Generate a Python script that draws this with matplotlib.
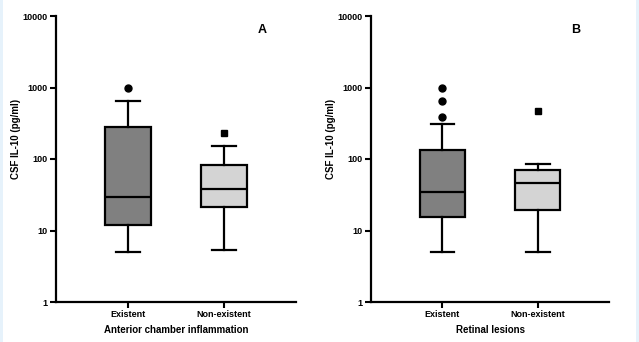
import matplotlib
matplotlib.use('Agg')
import matplotlib.pyplot as plt
from matplotlib.patches import Rectangle

plt.rcParams['font.family'] = ['Liberation Sans', 'DejaVu Sans']
plt.rcParams['font.weight'] = 'bold'

# 数据（从图中读取的箱线图统计量）
groups = ['Existent', 'Non-existent']
y_ticks = [1, 10, 100, 1000, 10000]

# A: Anterior chamber inflammation
a_whislo = [5.0, 5.4]
a_q1 = [11.9, 21.4]
a_med = [29.3, 38.2]
a_q3 = [282, 81.5]
a_whishi = [646, 152]
a_fliers = [[1000], [228]]

# B: Retinal lesions
b_whislo = [5.0, 5.0]
b_q1 = [15.2, 19.6]
b_med = [34.7, 46.4]
b_q3 = [132, 70.2]
b_whishi = [308, 84.3]
b_fliers = [[1000, 640, 390], [473]]

box_colors = ['#808080', '#d4d4d4']
flier_markers = ['o', 's']

W, H = 639, 342
fig = plt.figure(figsize=(W / 100, H / 100), dpi=100)
fig.patch.set_facecolor('#e6f2fb')
fig.patches.append(Rectangle((3 / W, 0), (W - 6) / W, 1, transform=fig.transFigure,
                             facecolor='white', edgecolor='none', zorder=-10))


def draw_panel(rect, whislo, q1, med, q3, whishi, fliers, xlabel, letter):
    ax = fig.add_axes(rect)
    ax.set_facecolor('white')
    stats = []
    for i in range(len(groups)):
        stats.append(dict(whislo=whislo[i], q1=q1[i], med=med[i], q3=q3[i],
                          whishi=whishi[i], fliers=[]))
    pos = [1, 2]
    bp = ax.bxp(stats, positions=pos, widths=0.48, patch_artist=True,
                showfliers=False,
                boxprops=dict(linewidth=1.6, edgecolor='black'),
                medianprops=dict(color='black', linewidth=1.6),
                whiskerprops=dict(color='black', linewidth=1.6),
                capprops=dict(color='black', linewidth=1.6),
                capwidths=0.25)
    for patch, c in zip(bp['boxes'], box_colors):
        patch.set_facecolor(c)
    for i in range(len(groups)):
        ax.plot([pos[i]] * len(fliers[i]), fliers[i], linestyle='none',
                marker=flier_markers[i], color='black', markersize=5)

    ax.set_yscale('log')
    ax.set_ylim(1, 10000)
    ax.set_xlim(0.25, 2.75)
    ax.set_yticks(y_ticks)
    ax.set_yticklabels([str(t) for t in y_ticks])
    ax.yaxis.set_minor_locator(matplotlib.ticker.NullLocator())
    ax.set_xticks(pos)
    ax.set_xticklabels(groups)
    ax.tick_params(axis='both', labelsize=6.5, width=1.5, length=4, pad=2)
    for s in ['top', 'right']:
        ax.spines[s].set_visible(False)
    for s in ['left', 'bottom']:
        ax.spines[s].set_linewidth(1.6)
    ax.set_ylabel('CSF IL-10 (pg/ml)', fontsize=7, fontweight='bold',
                  labelpad=1, y=0.57)
    ax.set_xlabel(xlabel, fontsize=7, fontweight='bold', labelpad=4)
    ax.text(0.86, 0.95, letter, transform=ax.transAxes, fontsize=9,
            fontweight='bold', ha='center', va='center')
    return ax


def rect_px(x0, x1, ytop, ybot):
    return [x0 / W, 1 - ybot / H, (x1 - x0) / W, (ybot - ytop) / H]


draw_panel(rect_px(56, 296, 16, 302), a_whislo, a_q1, a_med, a_q3, a_whishi,
           a_fliers, 'Anterior chamber inflammation', 'A')
draw_panel(rect_px(371, 609, 16, 302), b_whislo, b_q1, b_med, b_q3, b_whishi,
           b_fliers, 'Retinal lesions', 'B')

fig.savefig('out.png', dpi=100)
